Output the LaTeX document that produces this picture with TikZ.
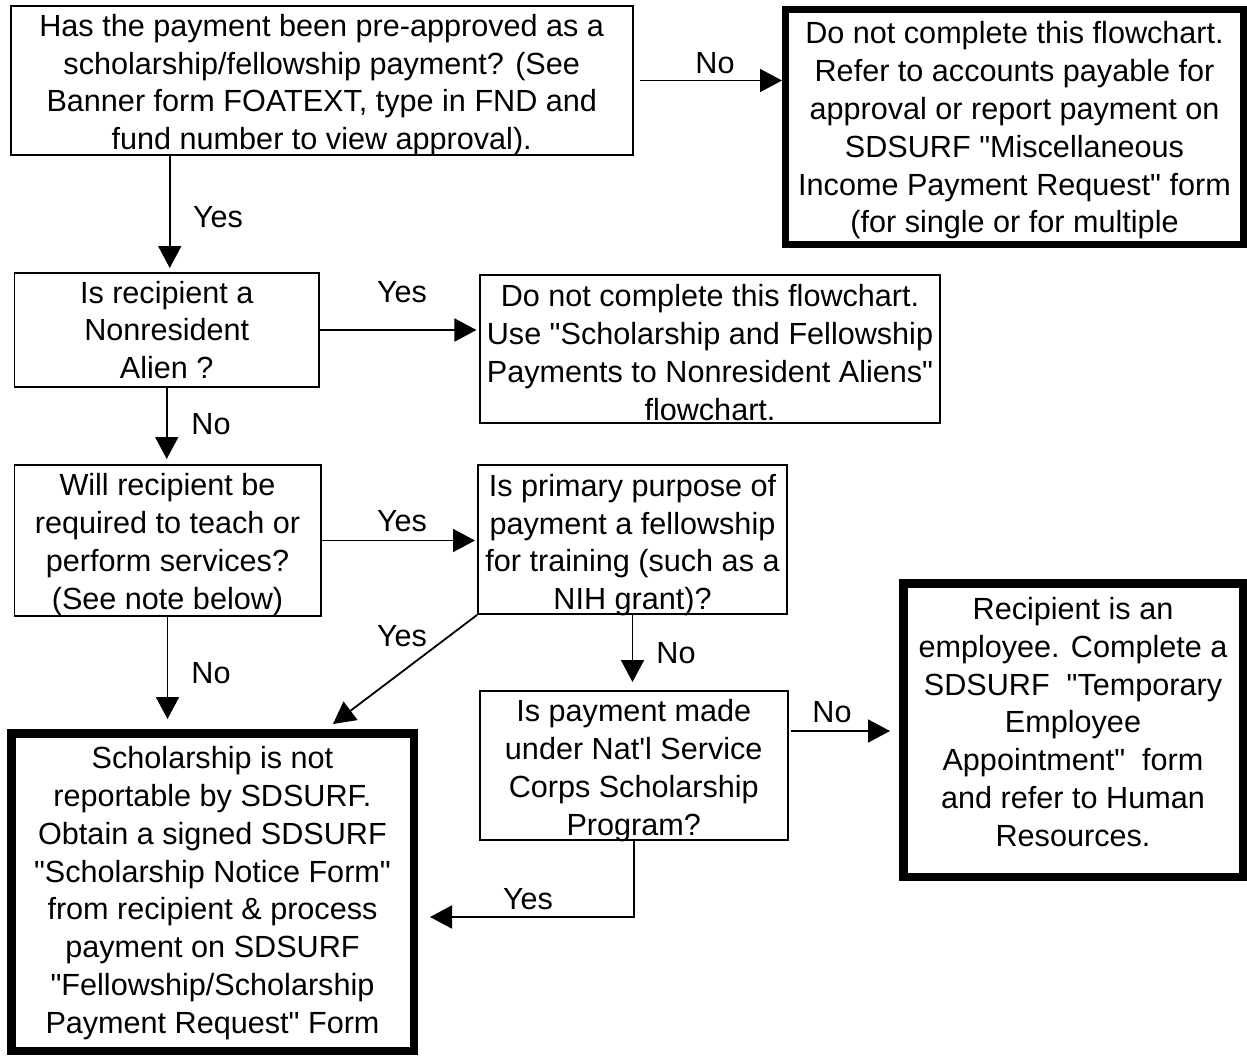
\documentclass[tikz,border=0pt]{standalone}
\usepackage{fontspec}
\setmainfont{Liberation Sans}[Ligatures=TeXOff]
\usetikzlibrary{arrows.meta}
\begin{document}
\begin{tikzpicture}[x=1pt,y=-1pt,
  every node/.style={font=\fontsize{30.6pt}{37.8pt}\selectfont, inner sep=0pt, align=center},
  thinbox/.style={draw, line width=1.8pt},
  thickbox/.style={draw, line width=8.5pt},
  lbl/.style={},
  arr/.style={line width=1.8pt, -{Triangle[length=22pt,width=23pt]}}]
\useasboundingbox (0,0) rectangle (1247,1055);

% boxes
\node[thinbox, minimum width=621.7pt, minimum height=149.2pt] (b1) at (321.75,80.5) {};
\node[draw, line width=7pt, minimum width=458pt, minimum height=235pt] (b2) at (1014.5,127) {};
\node[thinbox, minimum width=304.7pt, minimum height=114.2pt] (b3) at (166.75,330) {};
\node[thinbox, minimum width=459.3pt, minimum height=148.2pt] (b4) at (710,349) {};
\node[thinbox, minimum width=306.2pt, minimum height=151.2pt] (b5) at (167.5,540.5) {};
\node[thinbox, minimum width=309.2pt, minimum height=149.2pt] (b6) at (632.5,539.5) {};
\node[thinbox, minimum width=307.7pt, minimum height=149.2pt] (b8) at (633.75,765.5) {};
\node[thickbox, minimum width=339.5pt, minimum height=293.5pt] (b9) at (1073,730) {};
\node[thickbox, minimum width=402.5pt, minimum height=317.5pt] (b7) at (212.5,892) {};

% texts
\node (t1) at ([yshift=-4.5pt]b1.center)
  {Has the payment been pre-approved as a\\scholarship/fellowship payment? (See\\Banner form FOATEXT, type in FND and\\fund number to view approval).};
\node (t2) at ([yshift=-3.5pt]b2.center)
  {Do not complete this flowchart.\\Refer to accounts payable for\\approval or report payment on\\SDSURF "Miscellaneous\\Income Payment Request" form\\(for single or for multiple};
\node (t3) at (b3.center)
  {Is recipient a\\Nonresident\\Alien ?};
\node (t4) at ([yshift=-3.5pt]b4.center)
  {Do not complete this flowchart.\\Use "Scholarship and Fellowship\\Payments to Nonresident Aliens"\\flowchart.};
\node (t5) at ([yshift=-4pt]b5.center)
  {Will recipient be\\required to teach or\\perform services?\\(See note below)};
\node (t6) at ([yshift=-5.5pt]b6.center)
  {Is primary purpose of\\payment a fellowship\\for training (such as a\\NIH grant)?};
\node (t8) at ([yshift=-5pt]b8.center)
  {Is payment made\\under Nat'l Service\\Corps Scholarship\\Program?};
\node (t9) at ([yshift=8pt]b9.center)
  {Recipient is an\\employee. Complete a\\SDSURF\ \ "Temporary\\Employee\\Appointment"\ \ form\\and refer to Human\\Resources.};
\node (t7) at ([yshift=-1pt]b7.center)
  {Scholarship is not\\reportable by SDSURF.\\Obtain a signed SDSURF\\"Scholarship Notice Form"\\from recipient \& process\\payment on SDSURF\\"Fellowship/Scholarship\\Payment Request" Form};

% connectors
\draw[arr] ([xshift=6pt]b1.east) -- (b1.east -| b2.west);
\node[lbl] (l1) at (715,63) {No};
\draw[arr, shorten >=4pt] ([xshift=3pt]b1.south -| b3.north) -- ([xshift=3pt]b3.north);
\node[lbl] (l2) at (218,217) {Yes};
\draw[arr, shorten >=3pt] (b3.east) -- (b3.east -| b4.west);
\node[lbl] (l3) at (402,292) {Yes};
\draw[arr, shorten >=5pt] (b3.south) -- (b3.south |- b5.north);
\node[lbl] (l4) at (211,424) {No};
\draw[arr, shorten >=2pt] (b5.east) -- (b5.east -| b6.west);
\node[lbl] (l5) at (402,521) {Yes};
\draw[arr, shorten >=10pt] (b5.south) -- (b5.south |- b7.north);
\node[lbl] (l6) at (211,673) {No};
\draw[arr] (b6.south west) -- ([xshift=120.5pt,yshift=5pt]b7.north);
\node[lbl] (l7) at (402,636) {Yes};
\draw[arr, shorten >=8pt] (b6.south) -- (b6.south |- b8.north);
\node[lbl] (l8) at (676,653) {No};
\draw[arr, shorten >=12pt] (b8.south) |- ([yshift=-25pt]b7.east);
\node[lbl] (l9) at (528,899) {Yes};
\draw[arr, shorten >=9pt] ([shift={(2pt,34.5pt)}]b8.east) coordinate (n10) -- (n10 -| b9.west);
\node[lbl] (l10) at (832,712) {No};
\end{tikzpicture}
\end{document}
